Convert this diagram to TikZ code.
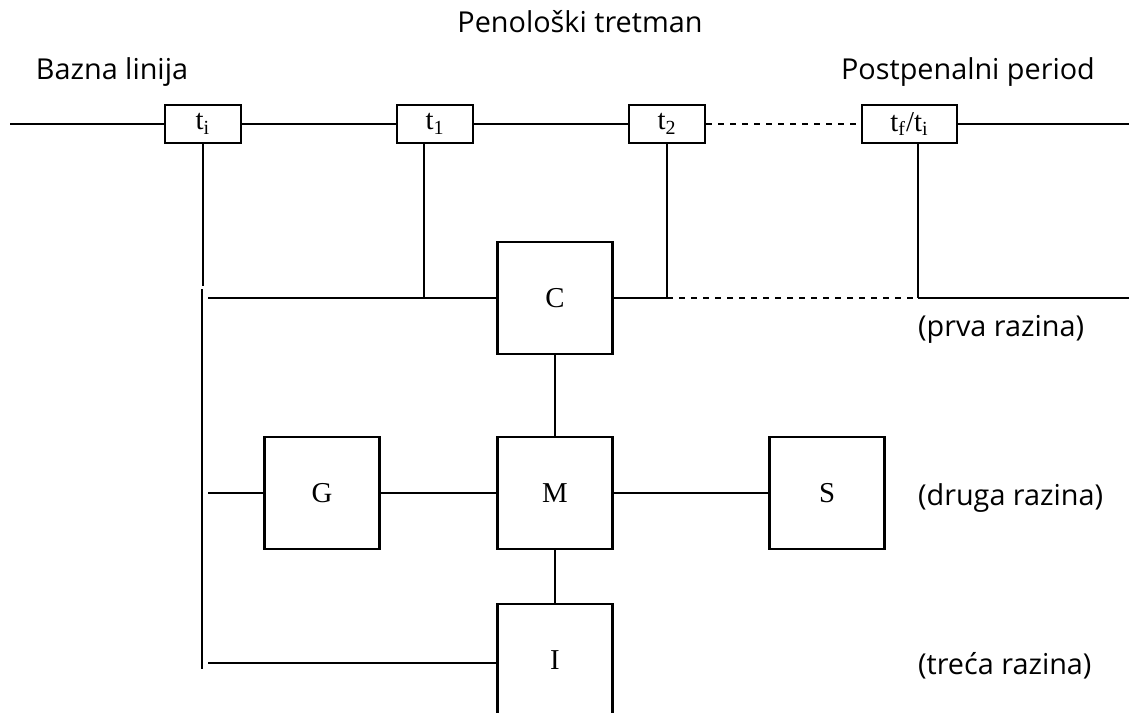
\documentclass[tikz,border=0pt]{standalone}
\usepackage{fontspec}
\setmainfont{Liberation Serif}
\newfontfamily\capfont{Open Sans}
\begin{document}
\begin{tikzpicture}
	[x=0.5pt, y=-0.5pt,
	every path/.style={line width=1.1pt},
	tbox/.style={draw, fill=white, minimum width=38pt, minimum height=19pt, inner sep=0pt, font=\Large},
	lbox/.style={draw, fill=white, minimum width=57.5pt, minimum height=56pt, inner sep=0pt, font=\Large},
	caption/.style={font=\capfont\Large, inner sep=0pt},
	level/.style={caption, anchor=west}]
	\useasboundingbox (0,0) rectangle (1129,712);
	% vremenska os
	\node[tbox] (ti) at (203,124) {t\textsubscript{i}};
	\node[tbox] (t1) at (435,124) {t\textsubscript{1}};
	\node[tbox] (t2) at (667,124) {t\textsubscript{2}};
	\node[tbox, minimum width=47.5pt] (tf) at (909.5,124) {t\textsubscript{f}/t\textsubscript{i}};
	\coordinate (os0) at (10,124);
	\coordinate (os1) at (1129,124);
	\draw (os0) -- (ti) -- (t1) -- (t2);
	\draw[dashed] (t2) -- (tf);
	\draw (tf) -- (os1);
	% razine
	\node[lbox] (C) at (555,298) {C};
	\node[lbox] (M) at (555,493) {M};
	\node[lbox] (G) at (322,493) {G};
	\node[lbox] (S) at (827,493) {S};
	\node[lbox] (I) at (555,660) {I};
	\coordinate (c1) at (208,298);
	\coordinate (c2) at (424,298);
	\coordinate (c3) at (667,298);
	\coordinate (c4) at (918,298);
	\coordinate (c5) at (1129,298);
	\draw (t1.south -| c2) -- (c2);
	\draw (t2.south -| c3) -- (c3);
	\draw (tf.south -| c4) -- (c4);
	\draw (c1) -- (C) -- (c3);
	\draw[dashed] (c3) -- (c4);
	\draw (c4) -- (c5);
	\coordinate (v1) at (203,286);
	\coordinate (v2) at (202,289);
	\coordinate (v3) at (202,669);
	\draw (ti) -- (v1);
	\draw (v2) -- (v3);
	\coordinate (g0) at (208,493);
	\draw (g0) -- (G) -- (M) -- (S);
	\draw (C) -- (M) -- (I);
	\coordinate (i0) at (208,663);
	\draw (i0) -- (i0 -| I.west);
	% natpisi
	\node[caption] (pen) at (580,22) {Penološki tretman};
	\node[caption] (baz) at (112,72) {Bazna linija};
	\node[caption] (post) at (968,72) {Postpenalni period};
	\node[level] (prva) at (917,329) {(prva razina)};
	\node[level] (druga) at (917,498) {(druga razina)};
	\node[level] (treca) at (917,666) {(treća razina)};
\end{tikzpicture}
\end{document}
